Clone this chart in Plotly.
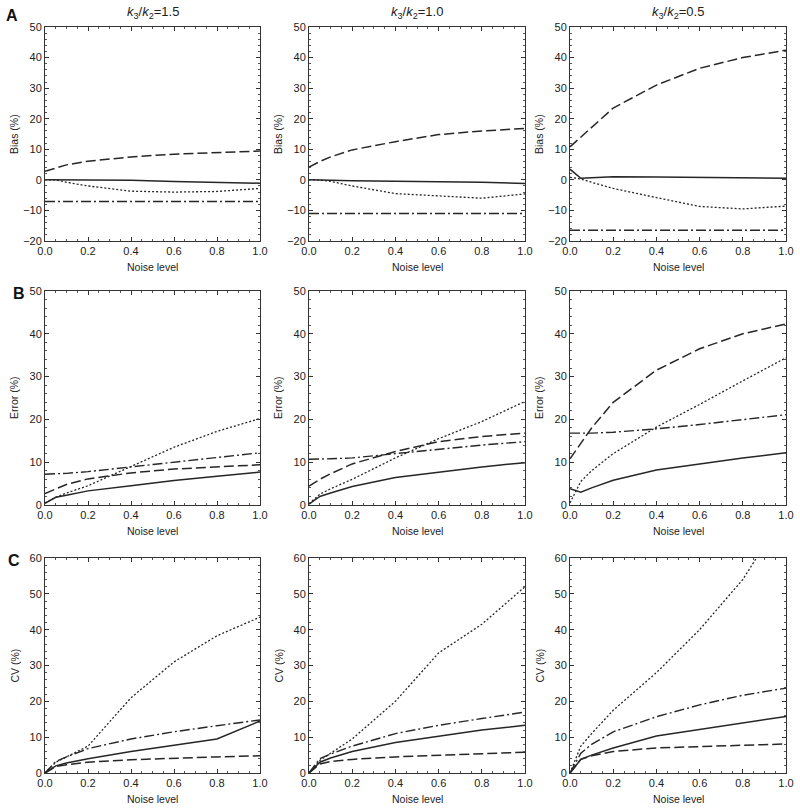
import plotly.graph_objects as go

noise = [0.0, 0.05, 0.1, 0.2, 0.4, 0.6, 0.8, 1.0]

ratio_titles = ["<i>k</i><sub>3</sub>/<i>k</i><sub>2</sub>=1.5",
                "<i>k</i><sub>3</sub>/<i>k</i><sub>2</sub>=1.0",
                "<i>k</i><sub>3</sub>/<i>k</i><sub>2</sub>=0.5"]
row_letters = ["A", "B", "C"]
row_ytitles = ["Bias (%)", "Error (%)", "CV (%)"]
x_title = "Noise level"
row_yranges = [[-20, 50], [0, 50], [0, 60]]
row_ytickvals = [[-20, -10, 0, 10, 20, 30, 40, 50],
                 [0, 10, 20, 30, 40, 50],
                 [0, 10, 20, 30, 40, 50, 60]]
xticks = [0.0, 0.2, 0.4, 0.6, 0.8, 1.0]

# ---- Bias (row A) ----
bias_15_solid = [0.0, 0.0, 0.0, 0.0, -0.1, -0.5, -0.8, -1.1]
bias_15_dash = [2.8, 3.9, 4.9, 6.1, 7.5, 8.4, 8.9, 9.4]
bias_15_dot = [0.0, 0.0, -0.8, -2.0, -3.7, -4.0, -3.8, -2.8]
bias_15_dashdot = [-7.1, -7.1, -7.1, -7.1, -7.1, -7.1, -7.1, -7.1]

bias_10_solid = [0.0, 0.0, -0.1, -0.3, -0.5, -0.5, -0.8, -1.2]
bias_10_dash = [4.2, 6.0, 7.5, 9.8, 12.5, 14.8, 16.0, 16.8]
bias_10_dot = [0.0, 0.0, -0.5, -2.0, -4.5, -5.3, -6.0, -4.6]
bias_10_dashdot = [-11.0, -11.0, -11.0, -10.9, -10.8, -10.8, -10.9, -11.0]

bias_05_solid = [3.5, 0.5, 0.7, 1.0, 0.9, 0.8, 0.7, 0.5]
bias_05_dash = [10.8, 14.0, 17.0, 23.5, 31.0, 36.5, 40.0, 42.4]
bias_05_dot = [0.8, 0.3, -0.8, -2.8, -5.8, -8.7, -9.5, -8.6]
bias_05_dashdot = [-16.5, -16.5, -16.5, -16.4, -16.4, -16.4, -16.5, -16.5]

# ---- Error (row B) ----
err_15_solid = [0.4, 1.8, 2.3, 3.3, 4.5, 5.7, 6.7, 7.7]
err_15_dash = [2.7, 3.8, 4.8, 6.1, 7.5, 8.4, 8.9, 9.4]
err_15_dot = [0.5, 1.8, 2.8, 4.5, 9.0, 13.5, 17.2, 20.2]
err_15_dashdot = [7.2, 7.3, 7.4, 7.8, 8.9, 10.0, 11.2, 12.2]

err_10_solid = [0.2, 2.0, 2.8, 4.3, 6.4, 7.6, 8.9, 9.9]
err_10_dash = [4.4, 6.0, 7.3, 9.6, 12.5, 14.8, 16.0, 16.8]
err_10_dot = [0.3, 2.5, 3.8, 6.0, 11.0, 15.5, 19.5, 24.2]
err_10_dashdot = [10.7, 10.7, 10.8, 11.0, 12.0, 13.0, 14.0, 14.8]

err_05_solid = [3.8, 3.0, 4.0, 5.8, 8.2, 9.6, 11.0, 12.2]
err_05_dash = [10.8, 14.5, 18.0, 24.0, 31.5, 36.5, 40.0, 42.3]
err_05_dot = [0.5, 5.5, 8.0, 12.0, 18.2, 23.5, 29.0, 34.4]
err_05_dashdot = [16.8, 16.8, 16.8, 17.0, 17.8, 18.8, 20.0, 21.1]

# ---- CV (row C) ----
cv_15_solid = [0.0, 2.0, 2.8, 4.0, 6.0, 7.8, 9.5, 14.5]
cv_15_dash = [0.0, 1.8, 2.3, 3.0, 3.7, 4.2, 4.5, 4.8]
cv_15_dot = [0.0, 3.0, 4.5, 7.5, 21.0, 31.0, 38.3, 43.5]
cv_15_dashdot = [0.0, 3.2, 4.5, 6.8, 9.5, 11.5, 13.2, 14.8]

cv_10_solid = [0.0, 3.0, 4.2, 6.0, 8.5, 10.3, 12.0, 13.3]
cv_10_dash = [0.0, 2.5, 3.2, 3.8, 4.5, 5.0, 5.4, 5.8]
cv_10_dot = [0.0, 3.5, 5.5, 9.5, 20.0, 33.5, 41.5, 52.0]
cv_10_dashdot = [0.0, 4.0, 5.3, 7.5, 11.0, 13.3, 15.2, 17.0]

cv_05_solid = [0.0, 3.8, 5.0, 7.0, 10.3, 12.2, 14.0, 15.8]
cv_05_dash = [0.0, 3.8, 4.8, 6.0, 7.0, 7.4, 7.8, 8.1]
cv_05_dot = [0.0, 7.5, 11.0, 17.5, 28.0, 40.0, 54.0, 73.0]
cv_05_dashdot = [0.0, 5.5, 8.0, 11.5, 15.7, 19.0, 21.7, 23.7]

panels = [
    [(bias_15_solid, bias_15_dash, bias_15_dot, bias_15_dashdot),
     (bias_10_solid, bias_10_dash, bias_10_dot, bias_10_dashdot),
     (bias_05_solid, bias_05_dash, bias_05_dot, bias_05_dashdot)],
    [(err_15_solid, err_15_dash, err_15_dot, err_15_dashdot),
     (err_10_solid, err_10_dash, err_10_dot, err_10_dashdot),
     (err_05_solid, err_05_dash, err_05_dot, err_05_dashdot)],
    [(cv_15_solid, cv_15_dash, cv_15_dot, cv_15_dashdot),
     (cv_10_solid, cv_10_dash, cv_10_dot, cv_10_dashdot),
     (cv_05_solid, cv_05_dash, cv_05_dot, cv_05_dashdot)],
]

W, H = 800, 809
col_px = [(45, 260), (309, 525), (570, 786)]
row_px = [(27, 241), (291, 505), (558, 773)]

dashes = ["solid", "10px,4px", "2px,2px", "10px,3px,2px,3px"]
widths = [1.5, 1.5, 1.3, 1.4]
line_color = "#262626"

fig = go.Figure()
layout = dict(
    width=W, height=H,
    margin=dict(l=0, r=0, t=0, b=0),
    paper_bgcolor="white", plot_bgcolor="white",
    showlegend=False,
    font=dict(family="Liberation Sans, Arial, sans-serif", color="#222", size=11),
)
annotations = []

idx = 0
for r in range(3):
    for c in range(3):
        idx += 1
        xa = "x" if idx == 1 else f"x{idx}"
        ya = "y" if idx == 1 else f"y{idx}"
        for s, ys in enumerate(panels[r][c]):
            fig.add_trace(go.Scatter(
                x=noise, y=ys, mode="lines", xaxis=xa, yaxis=ya,
                line=dict(color=line_color, width=widths[s], dash=dashes[s]),
                hoverinfo="skip"))
        x0, x1 = col_px[c]
        y0, y1 = row_px[r]
        xdom = [x0 / W, x1 / W]
        ydom = [1 - y1 / H, 1 - y0 / H]
        common = dict(showgrid=False, zeroline=False, showline=True,
                      linecolor="#333", linewidth=1, mirror="allticks",
                      ticks="inside", ticklen=4, tickcolor="#333",
                      tickfont=dict(size=11, color="#222"), automargin=False)
        layout["xaxis" if idx == 1 else f"xaxis{idx}"] = dict(
            domain=xdom, anchor=ya, range=[0, 1], tickvals=xticks,
            ticktext=[f"{v:.1f}" for v in xticks],
            minor=dict(ticks="inside", ticklen=2, dtick=0.05, tickcolor="#555"),
            **common)
        layout["yaxis" if idx == 1 else f"yaxis{idx}"] = dict(
            domain=ydom, anchor=xa, range=row_yranges[r],
            tickvals=row_ytickvals[r],
            ticktext=[("\u2212" + str(-v)) if v < 0 else str(v) for v in row_ytickvals[r]],
            minor=dict(ticks="inside", ticklen=2, dtick=2, tickcolor="#555"),
            **common)
        annotations.append(dict(text=x_title, x=(x0 + x1) / 2 / W, y=1 - (y1 + 25.5) / H,
                                xref="paper", yref="paper", showarrow=False,
                                font=dict(size=10.5, color="#222"),
                                xanchor="center", yanchor="middle"))
        annotations.append(dict(text=row_ytitles[r], x=(x0 - 31) / W, y=1 - (y0 + y1) / 2 / H,
                                xref="paper", yref="paper", showarrow=False, textangle=-90,
                                font=dict(size=10.5, color="#222"),
                                xanchor="center", yanchor="middle"))

for c in range(3):
    x0, x1 = col_px[c]
    annotations.append(dict(text=ratio_titles[c], x=(x0 + x1) / 2 / W, y=1 - 12 / H,
                            xref="paper", yref="paper", showarrow=False,
                            font=dict(size=13, color="#222"), xanchor="center", yanchor="middle"))
letter_pos = [(12, 15), (19, 293), (14, 560)]
for r in range(3):
    lx, ly = letter_pos[r]
    annotations.append(dict(text=f"<b>{row_letters[r]}</b>", x=lx / W, y=1 - ly / H,
                            xref="paper", yref="paper", showarrow=False,
                            font=dict(size=16, color="#111"), xanchor="center", yanchor="middle"))
layout["annotations"] = annotations
fig.update_layout(**layout)
fig.write_html("out.html", config={"displayModeBar": False},
               post_script="document.body.style.margin='0px';document.body.style.overflow='hidden';")
